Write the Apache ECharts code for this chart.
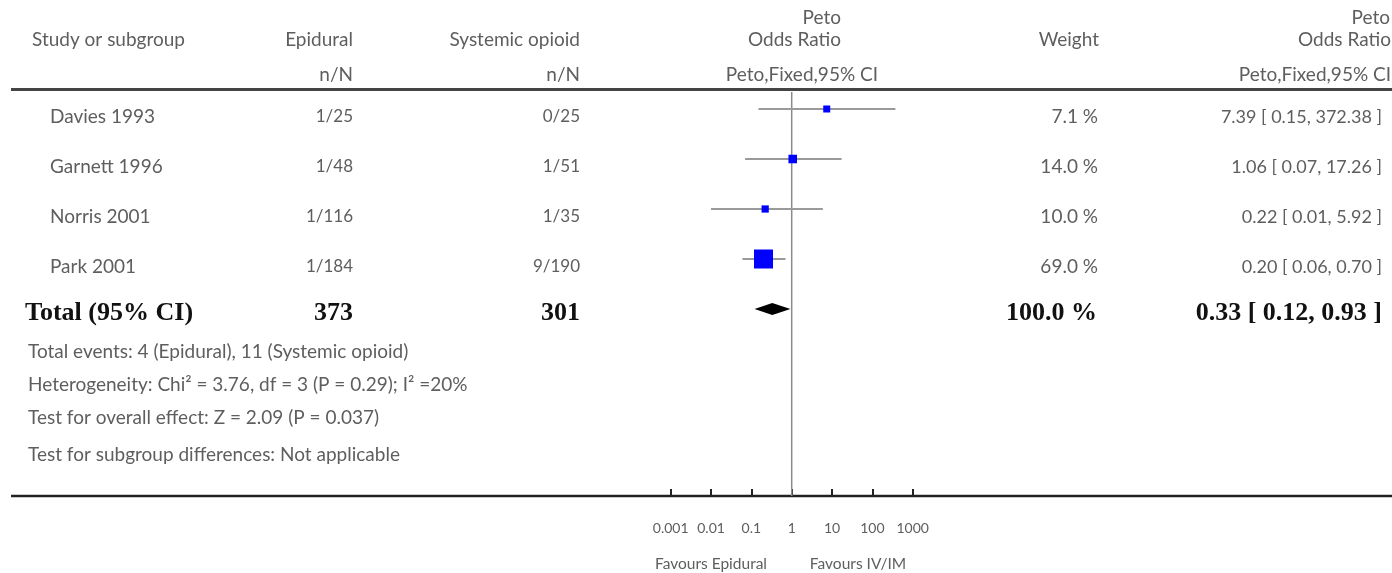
<!DOCTYPE html>
<html>
<head>
<meta charset="utf-8">
<script src="https://cdn.jsdelivr.net/npm/echarts@6/dist/echarts.min.js"></script>
<style>
html,body{margin:0;padding:0;background:#fff;}
#chart{width:1392px;height:573px;}
</style>
</head>
<body>
<div id="chart"></div>
<script>
// ---- data ----
const studies = ['Davies 1993', 'Garnett 1996', 'Norris 2001', 'Park 2001'];
const epiEvents = ['1/25', '1/48', '1/116', '1/184'];
const sysEvents = ['0/25', '1/51', '1/35', '9/190'];
const weights = [7.1, 14.0, 10.0, 69.0];
const oddsRatio = [7.39, 1.06, 0.22, 0.20];
const ciLow = [0.15, 0.07, 0.01, 0.06];
const ciHigh = [372.38, 17.26, 5.92, 0.70];
const totalLabel = 'Total (95% CI)';
const totalEpi = '373';
const totalSys = '301';
const totalWeight = 100.0;
const totalOR = 0.33;
const totalLow = 0.12;
const totalHigh = 0.93;
const noEffect = 1;
const footerLines = [
  'Total events: 4 (Epidural), 11 (Systemic opioid)',
  'Heterogeneity: Chi\u00b2 = 3.76, df = 3 (P = 0.29); I\u00b2 =20%',
  'Test for overall effect: Z = 2.09 (P = 0.037)',
  'Test for subgroup differences: Not applicable'
];
const tickLabels = ['0.001', '0.01', '0.1', '1', '10', '100', '1000'];
const favourLeft = 'Favours Epidural';
const favourRight = 'Favours IV/IM';

// ---- layout / style ----
const FONT = 'Lato, "Open Sans", sans-serif';
const SERIF = '"Liberation Serif", "DejaVu Serif", serif';
const GRAY = '#5e5e5e';
const rowY0 = 117, rowStep = 50;
const Y_MIN = -0.34, Y_MAX = 7.74;

function txt(text, x, y, align, size, opts) {
  opts = opts || {};
  return {
    type: 'text', x: x, y: y, silent: true,
    style: {
      text: text,
      fill: opts.fill || GRAY,
      font: (opts.bold ? 'bold ' : '') + size + 'px ' + (opts.family || FONT),
      textAlign: align, align: align,
      textVerticalAlign: 'middle', verticalAlign: 'middle'
    }
  };
}
function fmt2(v) { return v.toFixed(2); }

const H = 19;
const graphics = [];
// headers
graphics.push(txt('Study or subgroup', 32, 40, 'left', H));
graphics.push(txt('Epidural', 353, 40, 'right', H));
graphics.push(txt('n/N', 353, 75, 'right', H));
graphics.push(txt('Systemic opioid', 580, 40, 'right', H));
graphics.push(txt('n/N', 580, 75, 'right', H));
graphics.push(txt('Peto', 841, 18, 'right', H));
graphics.push(txt('Odds Ratio', 841, 40, 'right', H));
graphics.push(txt('Peto,Fixed,95% CI', 878, 75, 'right', H));
graphics.push(txt('Weight', 1099, 40, 'right', H));
graphics.push(txt('Peto', 1390, 18, 'right', H));
graphics.push(txt('Odds Ratio', 1391, 40, 'right', H));
graphics.push(txt('Peto,Fixed,95% CI', 1391, 75, 'right', H));
// rules
graphics.push({ type: 'line', silent: true, shape: { x1: 11, y1: 89.5, x2: 1392, y2: 89.5 }, style: { stroke: '#444', lineWidth: 3 } });
graphics.push({ type: 'line', silent: true, shape: { x1: 11, y1: 496, x2: 1392, y2: 496 }, style: { stroke: '#222', lineWidth: 2.5 } });
// study rows
for (let i = 0; i < studies.length; i++) {
  const y = rowY0 + i * rowStep;
  graphics.push(txt(studies[i], 50, y, 'left', H));
  graphics.push(txt(epiEvents[i], 353, y, 'right', 17));
  graphics.push(txt(sysEvents[i], 580, y, 'right', 17));
  graphics.push(txt(weights[i].toFixed(1) + ' %', 1098, y, 'right', H));
  graphics.push(txt(fmt2(oddsRatio[i]) + ' [ ' + fmt2(ciLow[i]) + ', ' + fmt2(ciHigh[i]) + ' ]', 1382, y, 'right', 18));
}
// total row
const ty = 313;
const boldOpt = { bold: true, family: SERIF, fill: '#111' };
graphics.push(txt(totalLabel, 25, ty, 'left', 26, boldOpt));
graphics.push(txt(totalEpi, 353, ty, 'right', 26, boldOpt));
graphics.push(txt(totalSys, 580, ty, 'right', 26, boldOpt));
graphics.push(txt(totalWeight.toFixed(1) + ' %', 1097, ty, 'right', 26, boldOpt));
graphics.push(txt(fmt2(totalOR) + ' [ ' + fmt2(totalLow) + ', ' + fmt2(totalHigh) + ' ]', 1382, ty, 'right', 26, boldOpt));
// footer
const footerY = [352, 385, 418, 455];
footerLines.forEach((s, i) => graphics.push(txt(s, 28, footerY[i], 'left', H)));
// favours
graphics.push(txt(favourLeft, 711, 564, 'center', 15.5));
graphics.push(txt(favourRight, 858, 564, 'center', 15.5));

// ---- series data ----
const studyData = studies.map((s, i) => [oddsRatio[i], ciLow[i], ciHigh[i], weights[i], i]);
const totalData = [[totalOR, totalLow, totalHigh, totalWeight, studies.length]];

const chart = echarts.init(document.getElementById('chart'), null, { renderer: 'canvas' });
chart.setOption({
  backgroundColor: '#fff',
  animation: false,
  graphic: graphics,
  grid: { left: 670.7, width: 242, top: 92, height: 404, containLabel: false },
  xAxis: {
    type: 'log', logBase: 10, min: 0.001, max: 1000,
    axisLine: { show: false, onZero: false },
    axisTick: { show: true, inside: true, length: 7, lineStyle: { color: '#222', width: 2 } },
    splitLine: { show: false },
    axisLabel: {
      margin: 25, color: GRAY, fontSize: 14, fontFamily: FONT,
      formatter: function (v) { return tickLabels[Math.round(Math.log10(v)) + 3]; }
    }
  },
  yAxis: { type: 'value', inverse: true, min: Y_MIN, max: Y_MAX, show: false },
  series: [
    {
      type: 'custom',
      data: [[noEffect]],
      renderItem: function (params, api) {
        const a = api.coord([api.value(0), Y_MIN]);
        const b = api.coord([api.value(0), Y_MAX]);
        return { type: 'line', shape: { x1: a[0], y1: a[1], x2: b[0], y2: b[1] }, style: { stroke: '#8a8a8a', lineWidth: 1.5 } };
      },
      silent: true,
      z: 1
    },
    {
      type: 'custom',
      data: studyData,
      renderItem: function (params, api) {
        const p = api.coord([api.value(0), api.value(4)]);
        const l = api.coord([api.value(1), api.value(4)]);
        const h = api.coord([api.value(2), api.value(4)]);
        const w = api.value(3);
        const size = Math.max(7, 19 * Math.sqrt(w / 69));
        return {
          type: 'group',
          children: [
            { type: 'line', shape: { x1: l[0], y1: p[1], x2: h[0], y2: p[1] }, style: { stroke: '#9a9a9a', lineWidth: 2 } },
            { type: 'rect', shape: { x: p[0] - size / 2, y: p[1] - size / 2, width: size, height: size }, style: { fill: '#0000ff' } }
          ]
        };
      },
      z: 3
    },
    {
      type: 'custom',
      data: totalData,
      renderItem: function (params, api) {
        const p = api.coord([api.value(0), api.value(4)]);
        const l = api.coord([api.value(1), api.value(4)]);
        const h = api.coord([api.value(2), api.value(4)]);
        const hh = 6;
        return {
          type: 'polygon',
          shape: { points: [[l[0], p[1]], [p[0], p[1] - hh], [h[0], p[1]], [p[0], p[1] + hh]] },
          style: { fill: '#000' }
        };
      },
      z: 4
    }
  ]
});
</script>
</body>
</html>
